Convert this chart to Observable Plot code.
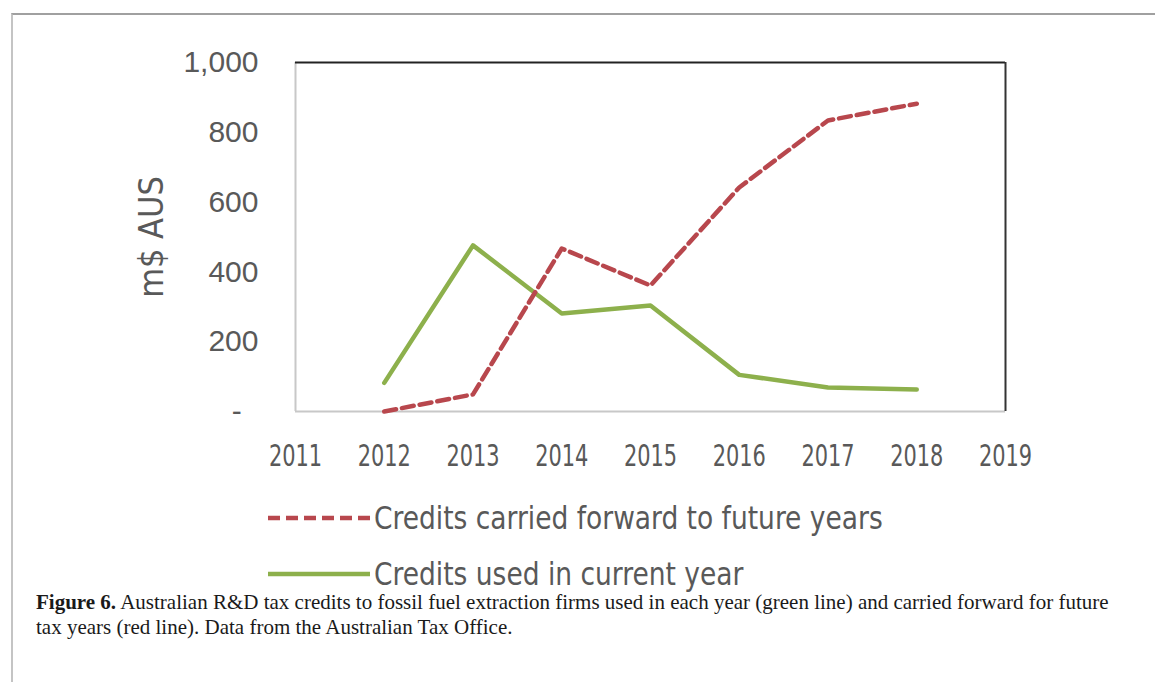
<!DOCTYPE html>
<html>
<head>
<meta charset="utf-8">
<script src="https://cdn.jsdelivr.net/npm/d3@7"></script>
<script src="https://cdn.jsdelivr.net/npm/@observablehq/plot@0.6"></script>
<style>
  html, body { margin: 0; padding: 0; background: #fff; width: 1155px; height: 682px; overflow: hidden; }
  #frame { position: absolute; left: 11px; top: 13px; width: 1200px; height: 700px;
           border-top: 2px solid #a0a0a0; border-left: 2px solid #c4c4c4; }
  #chart { position: absolute; left: 13px; top: 15px; }
  .leg { position: absolute; left: 268px; height: 28px; display: flex; align-items: center;
         font-family: "Liberation Sans Narrow", "DejaVu Sans Condensed", sans-serif;
         font-size: 32px; line-height: 28px; color: #595959; white-space: nowrap; }
  .leg svg { margin-right: 2px; }
  .leg span { display: inline-block; transform: scaleX(0.92); transform-origin: left center; }
  #caption { position: absolute; left: 36px; top: 590px; width: 1110px;
             font-family: "Liberation Serif", "DejaVu Serif", serif; font-size: 21px;
             line-height: 25px; color: #1a1a1a; white-space: nowrap; }
</style>
</head>
<body>
<div id="frame"></div>
<div id="chart"></div>
<div class="leg" style="top:504px"><svg width="104" height="28"><line x1="0" x2="102" y1="14" y2="14" stroke="#b8474d" stroke-width="4.5" stroke-dasharray="12,6"/></svg><span id="leg1"></span></div>
<div class="leg" style="top:560px"><svg width="104" height="28"><line x1="0" x2="102" y1="14" y2="14" stroke="#8db04c" stroke-width="4.5"/></svg><span id="leg2"></span></div>
<div id="caption"><b>Figure 6.</b> Australian R&amp;D tax credits to fossil fuel extraction firms used in each year (green line) and carried forward for future<br>tax years (red line). Data from the Australian Tax Office.</div>
<script>
const years = [2012, 2013, 2014, 2015, 2016, 2017, 2018];
const carriedForward = [0, 49, 467, 361, 642, 834, 882];
const usedCurrent = [82, 476, 281, 304, 105, 69, 63];
const xTicks = [2011, 2012, 2013, 2014, 2015, 2016, 2017, 2018, 2019];
const yTicks = [0, 200, 400, 600, 800, 1000];
const seriesNames = ["Credits carried forward to future years", "Credits used in current year"];
const yLabel = "m$ AUS";

document.getElementById("leg1").textContent = seriesNames[0];
document.getElementById("leg2").textContent = seriesNames[1];

const red = years.map((y, i) => ({year: y, value: carriedForward[i]}));
const green = years.map((y, i) => ({year: y, value: usedCurrent[i]}));

const fontTicks = "Liberation Sans, Arial, sans-serif";
const fontNarrow = "Liberation Sans Narrow, DejaVu Sans Condensed, sans-serif";

const chart = Plot.plot({
  width: 1100,
  height: 480,
  marginLeft: 282,
  marginRight: 108,
  marginTop: 47,
  marginBottom: 84,
  x: {domain: [xTicks[0], xTicks[xTicks.length - 1]]},
  y: {domain: [0, 1000]},
  marks: [
    Plot.ruleY([0], {stroke: "#c8c8c8", strokeWidth: 2}),
    Plot.ruleX([xTicks[0]], {stroke: "#c8c8c8", strokeWidth: 2}),
    Plot.ruleY([1000], {stroke: "#222", strokeWidth: 2}),
    Plot.ruleX([xTicks[xTicks.length - 1]], {stroke: "#333", strokeWidth: 2}),
    Plot.axisX({ticks: xTicks, tickSize: 0, tickPadding: 32, tickFormat: d => String(d),
      fontSize: 31, fontFamily: fontNarrow, fill: "#595959", label: null}),
    Plot.axisY({ticks: yTicks, tickSize: 0, tickPadding: 37,
      tickFormat: d => d === 0 ? "-\u00a0\u00a0" : d3.format(",")(d),
      fontSize: 30, fontFamily: fontTicks, fill: "#595959", label: null}),
    Plot.text([yLabel], {frameAnchor: "left", textAnchor: "middle", rotate: -90, dx: -143,
      fontSize: 34, fontFamily: fontNarrow, fill: "#595959"}),
    Plot.line(green, {x: "year", y: "value", stroke: "#8db04c", strokeWidth: 4.5}),
    Plot.line(red, {x: "year", y: "value", stroke: "#b8474d", strokeWidth: 4.5, strokeDasharray: "12,6"})
  ]
});
document.getElementById("chart").appendChild(chart);

d3.select(chart).selectAll("g[aria-label='x-axis tick label'] text")
  .attr("transform", function() { return (this.getAttribute("transform") || "") + " scale(0.75,1)"; });
</script>
</body>
</html>
